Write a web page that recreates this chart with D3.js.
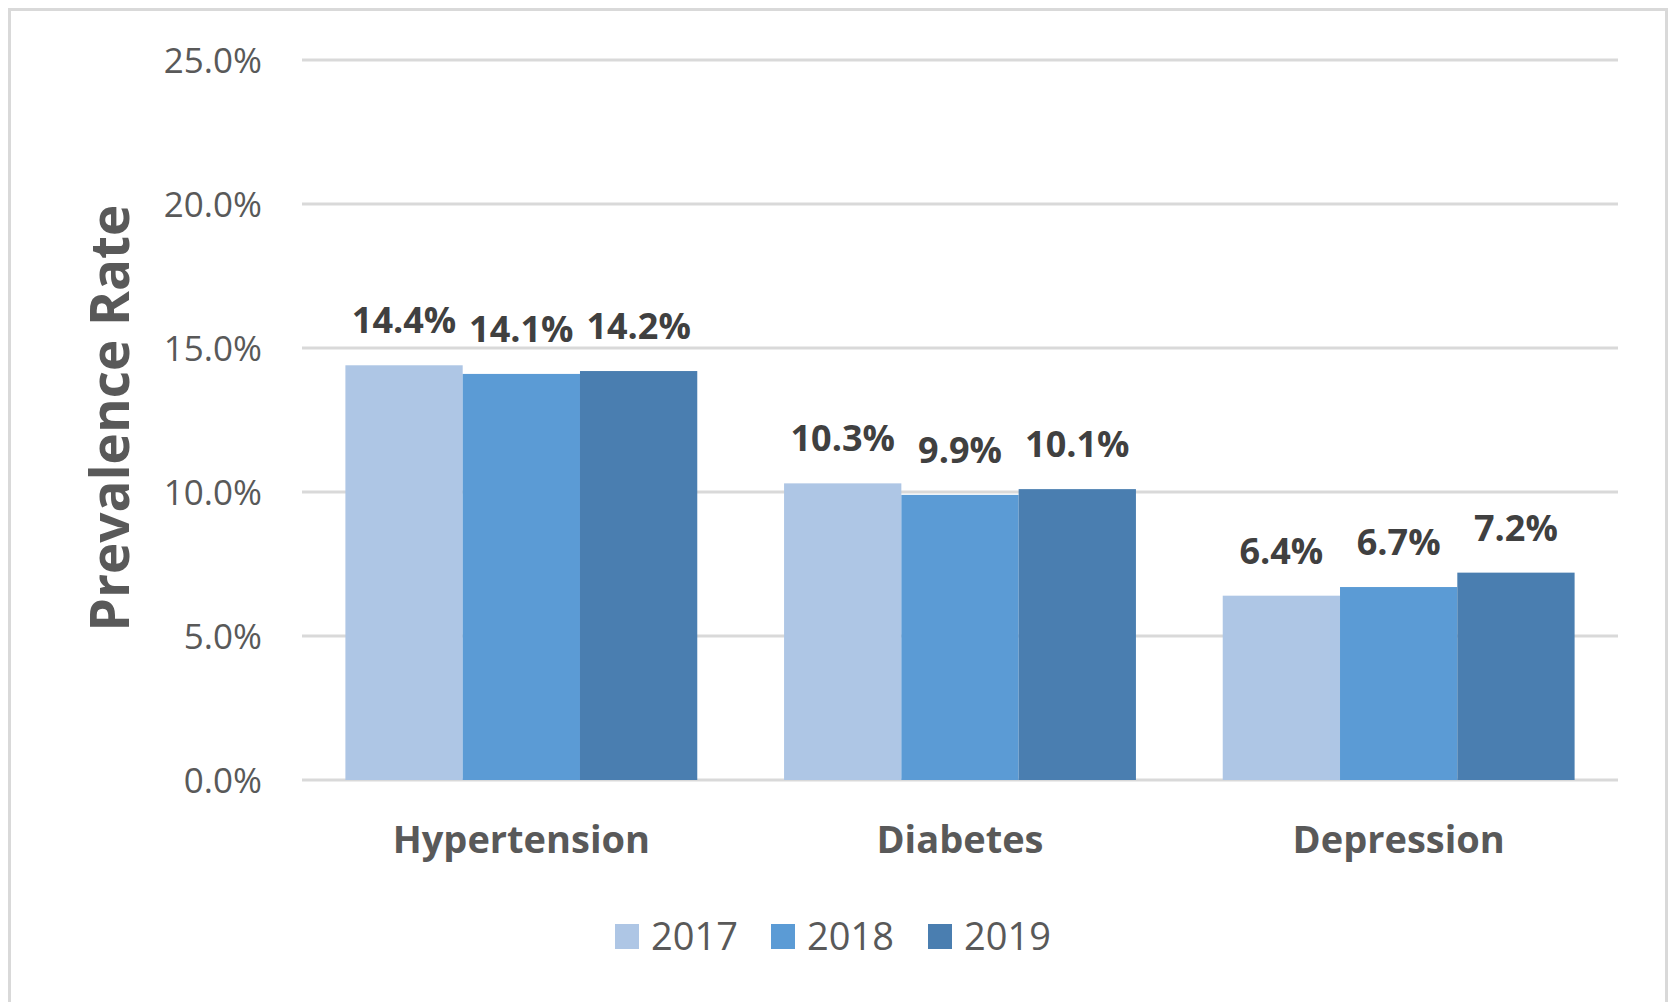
<!DOCTYPE html>
<html>
<head>
<meta charset="utf-8">
<script src="https://cdn.jsdelivr.net/npm/d3@7"></script>
<style>
  body { margin: 0; background: #fff; }
  svg { display: block; font-family: "Open Sans", sans-serif; }
</style>
</head>
<body>
<svg width="1671" height="1002"></svg>
<script>
var categories = ["Hypertension", "Diabetes", "Depression"];
var years = ["2017", "2018", "2019"];
var values2017 = [14.4, 10.3, 6.4];
var values2018 = [14.1, 9.9, 6.7];
var values2019 = [14.2, 10.1, 7.2];
var yTicks = [0, 5, 10, 15, 20, 25];
var colors = ["#aec6e5", "#5b9bd5", "#4a7eb0"];

var series = [values2017, values2018, values2019];

var svg = d3.select("svg");

// outer frame
svg.append("rect")
  .attr("x", 9.5).attr("y", 9.5)
  .attr("width", 1657).attr("height", 1010)
  .attr("fill", "none")
  .attr("stroke", "#d9d9d9")
  .attr("stroke-width", 3);

var plotLeft = 302, plotRight = 1618, plotTop = 60, plotBottom = 780;

var y = d3.scaleLinear().domain([0, 25]).range([plotBottom, plotTop]);
var x0 = d3.scaleBand().domain(categories).range([plotLeft, plotRight]).padding(0);
var x1 = d3.scaleBand().domain(years).range([0, x0.bandwidth()])
  .paddingInner(0).paddingOuter(0.37);

// gridlines
svg.append("g").selectAll("line")
  .data(yTicks).enter()
  .append("line")
  .attr("x1", plotLeft).attr("x2", plotRight)
  .attr("y1", function(d) { return y(d); })
  .attr("y2", function(d) { return y(d); })
  .attr("stroke", "#d9d9d9")
  .attr("stroke-width", 3);

// y tick labels
svg.append("g").selectAll("text")
  .data(yTicks).enter()
  .append("text")
  .attr("x", 262)
  .attr("y", function(d) { return y(d); })
  .attr("dy", "0.36em")
  .attr("text-anchor", "end")
  .attr("font-size", "35px")
  .attr("fill", "#595959")
  .text(function(d) { return d3.format(".1f")(d) + "%"; });

// bars
var groups = svg.append("g").selectAll("g")
  .data(categories).enter()
  .append("g")
  .attr("transform", function(d) { return "translate(" + x0(d) + ",0)"; });

groups.selectAll("rect")
  .data(function(d, i) {
    return years.map(function(yr, j) { return { year: yr, idx: j, value: series[j][i] }; });
  })
  .enter()
  .append("rect")
  .attr("x", function(d) { return x1(d.year); })
  .attr("y", function(d) { return y(d.value); })
  .attr("width", x1.bandwidth())
  .attr("height", function(d) { return plotBottom - y(d.value); })
  .attr("fill", function(d) { return colors[d.idx]; });

groups.selectAll("text")
  .data(function(d, i) {
    return years.map(function(yr, j) { return { year: yr, value: series[j][i] }; });
  })
  .enter()
  .append("text")
  .attr("x", function(d) { return x1(d.year) + x1.bandwidth() / 2; })
  .attr("y", function(d) { return y(d.value) - 32; })
  .attr("text-anchor", "middle")
  .attr("font-size", "36px")
  .attr("font-weight", "bold")
  .attr("fill", "#404040")
  .text(function(d) { return d3.format(".1f")(d.value) + "%"; });

// category labels
svg.append("g").selectAll("text")
  .data(categories).enter()
  .append("text")
  .attr("x", function(d) { return x0(d) + x0.bandwidth() / 2; })
  .attr("y", 853)
  .attr("text-anchor", "middle")
  .attr("font-size", "38px")
  .attr("font-weight", "bold")
  .attr("fill", "#595959")
  .text(function(d) { return d; });

// y axis title
svg.append("text")
  .attr("transform", "translate(129,418) rotate(-90)")
  .attr("text-anchor", "middle")
  .attr("font-size", "53px")
  .attr("font-weight", "bold")
  .attr("fill", "#595959")
  .text("Prevalence Rate");

// legend
var legendX = [615, 771, 928];
var legend = svg.append("g").selectAll("g")
  .data(years).enter()
  .append("g")
  .attr("transform", function(d, i) { return "translate(" + legendX[i] + ",924)"; });

legend.append("rect")
  .attr("width", 24).attr("height", 25)
  .attr("fill", function(d, i) { return colors[i]; });

legend.append("text")
  .attr("x", 36)
  .attr("y", 26)
  .attr("font-size", "38px")
  .attr("fill", "#595959")
  .text(function(d) { return d; });
</script>
</body>
</html>
